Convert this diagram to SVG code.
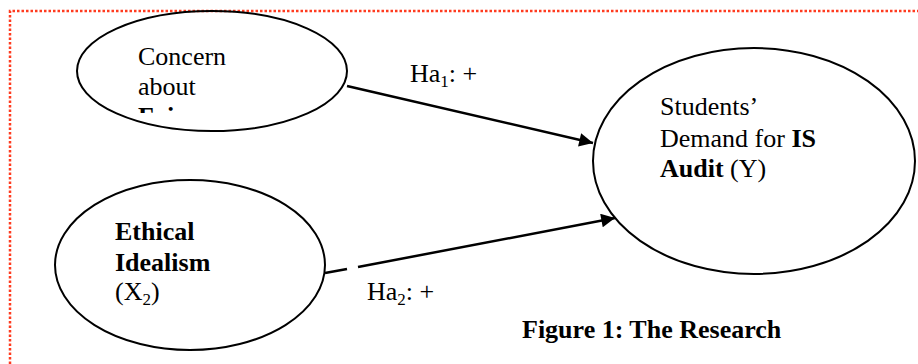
<svg xmlns="http://www.w3.org/2000/svg" width="918" height="364" viewBox="0 0 918 364">
<style>
.node{fill:none;stroke:#000;stroke-width:2}
.t{font-family:"Liberation Serif","Times New Roman",serif;font-size:26px;fill:#000}
.b{font-weight:bold}
.con{stroke:#000;stroke-width:2.5;fill:none}
.frame{fill:none;stroke:#ff3b1f;stroke-width:2.5;stroke-dasharray:2.5 2}
</style>
<defs>
<marker id="ah" viewBox="0 0 10 10" refX="10" refY="5" markerWidth="7" markerHeight="5.5" orient="auto" markerUnits="strokeWidth">
<path d="M0,0 L10,5 L0,10 z" fill="#000"/>
</marker>
<clipPath id="clipTop"><rect x="0" y="0" width="400" height="113"/></clipPath>
</defs>
<rect x="0" y="0" width="918" height="364" fill="#fff"/>
<path class="frame" d="M10,364 L10,11 L918,11"/>
<g id="connectors">
<line class="con" x1="347" y1="86" x2="593" y2="143" marker-end="url(#ah)"/>
<line class="con" x1="325" y1="273" x2="347" y2="269"/>
<line class="con" x1="358" y1="267" x2="615" y2="218" marker-end="url(#ah)"/>
<text class="t" x="410" y="82">Ha<tspan font-size="17" dy="5">1</tspan><tspan dy="-5">: +</tspan></text>
<text class="t" x="367" y="300">Ha<tspan font-size="17" dy="5">2</tspan><tspan dy="-5">: +</tspan></text>
</g>
<g id="fairness">
<ellipse class="node" cx="212" cy="71" rx="135" ry="60"/>
<g clip-path="url(#clipTop)">
<text class="t" x="138" y="65">Concern</text>
<text class="t" x="138" y="95">about</text>
<text class="t b" x="138" y="125">Fairness</text>
</g>
</g>
<g id="idealism">
<ellipse class="node" cx="190" cy="265" rx="135" ry="85"/>
<text class="t b" x="115" y="240">Ethical</text>
<text class="t b" x="115" y="271">Idealism</text>
<text class="t" x="115" y="300">(X<tspan font-size="17" dy="5">2</tspan><tspan dy="-5">)</tspan></text>
</g>
<g id="demand">
<ellipse class="node" cx="754" cy="161" rx="161" ry="113"/>
<text class="t" x="660" y="115">Students’</text>
<text class="t" x="660" y="147">Demand for <tspan class="b">IS</tspan></text>
<text class="t" x="660" y="177"><tspan class="b">Audit</tspan> (Y)</text>
</g>
<text class="t b" x="522" y="338">Figure 1: The Research</text>
</svg>
